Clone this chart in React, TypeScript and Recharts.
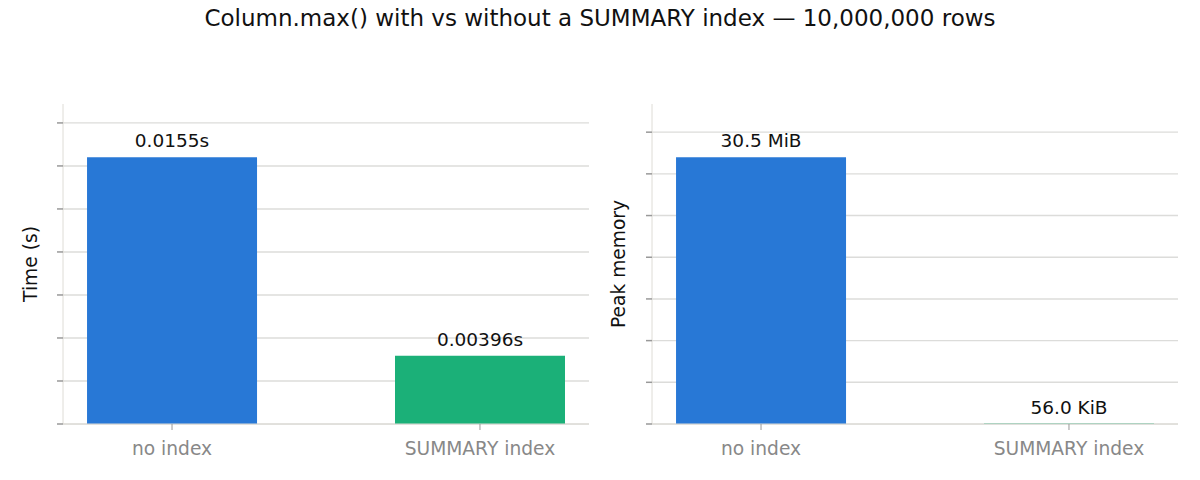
import React from 'react';
import { BarChart, Bar, XAxis, YAxis, CartesianGrid, Cell, LabelList } from 'recharts';

const categories = ['no index', 'SUMMARY index'];
const barColors = ['#2878d6', '#1bb078'];

const timeValues = [0.0155, 0.00396];
const timeLabels = ['0.0155s', '0.00396s'];
const timeTicks = [0, 0.0025, 0.005, 0.0075, 0.01, 0.0125, 0.015, 0.0175];

// peak memory in bytes (30.5 MiB, 56.0 KiB)
const memValues = [31981568, 57344];
const memLabels = ['30.5 MiB', '56.0 KiB'];
const memTicks = [0, 5e6, 10e6, 15e6, 20e6, 25e6, 30e6, 35e6];

const FONT = '"DejaVu Sans", sans-serif';
const GRID = '#dcdcda';
const SPINE = '#dedcd6';
const TICK = '#999999';

interface PanelProps {
    values: number[];
    labels: string[];
    ticks: number[];
    yMax: number;
    yLabel: string;
    left: number;
    axisWidth: number;
    rightMargin: number;
    labelDx: number;
}

const Panel: React.FC<PanelProps> = ({ values, labels, ticks, yMax, yLabel, left, axisWidth, rightMargin, labelDx }) => {
    const data = categories.map((name, i) => ({ x: i, name, value: values[i], label: labels[i] }));
    return (
        <div style={{ position: 'absolute', left, top: 0 }}>
            <BarChart
                width={600}
                height={480}
                data={data}
                margin={{ top: 104, right: rightMargin, left: 0, bottom: 0 }}
                style={{ fontFamily: FONT }}
            >
                <CartesianGrid vertical={false} horizontalValues={ticks} stroke={GRID} strokeWidth={1.4} />
                <XAxis
                    type="number"
                    dataKey="x"
                    domain={[-0.354, 1.354]}
                    allowDataOverflow
                    ticks={[0, 1]}
                    tickFormatter={(v: number) => categories[v] ?? ''}
                    height={56}
                    stroke={SPINE}
                    tickLine={{ stroke: TICK }}
                    tickSize={6}
                    tickMargin={12}
                    tick={{ fill: '#888888', fontSize: 18.67, fontFamily: FONT }}
                />
                <YAxis
                    type="number"
                    domain={[0, yMax]}
                    allowDataOverflow
                    ticks={ticks}
                    width={axisWidth}
                    stroke={SPINE}
                    tickLine={{ stroke: TICK, strokeWidth: 1.5 }}
                    tickSize={6}
                    tickFormatter={() => ''}
                    label={{
                        value: yLabel,
                        angle: -90,
                        position: 'center',
                        dx: labelDx,
                        style: { fill: '#111', fontSize: 18.67, fontFamily: FONT },
                    }}
                />
                <Bar dataKey="value" barSize={170} isAnimationActive={false}>
                    {data.map((d, i) => (
                        <Cell key={d.name} fill={barColors[i]} />
                    ))}
                    <LabelList dataKey="label" position="top" offset={10} style={{ fill: '#111', fontSize: 18.5, fontFamily: FONT }} />
                </Bar>
            </BarChart>
        </div>
    );
};

export default function App() {
    return (
        <div style={{ position: 'absolute', left: 0, top: 0, width: 1200, height: 480, background: '#fff', fontFamily: FONT }}>
            <div style={{ position: 'absolute', left: 0, top: 5, width: 1200, textAlign: 'center', fontSize: 23, color: '#111' }}>
                Column.max() with vs without a SUMMARY index — 10,000,000 rows
            </div>
            <Panel
                values={timeValues}
                labels={timeLabels}
                ticks={timeTicks}
                yMax={0.0186}
                yLabel="Time (s)"
                left={0}
                axisWidth={63}
                rightMargin={11}
                labelDx={-1}
            />
            <Panel
                values={memValues}
                labels={memLabels}
                ticks={memTicks}
                yMax={38377882}
                yLabel="Peak memory"
                left={600}
                axisWidth={52}
                rightMargin={22}
                labelDx={-8}
            />
        </div>
    );
}
